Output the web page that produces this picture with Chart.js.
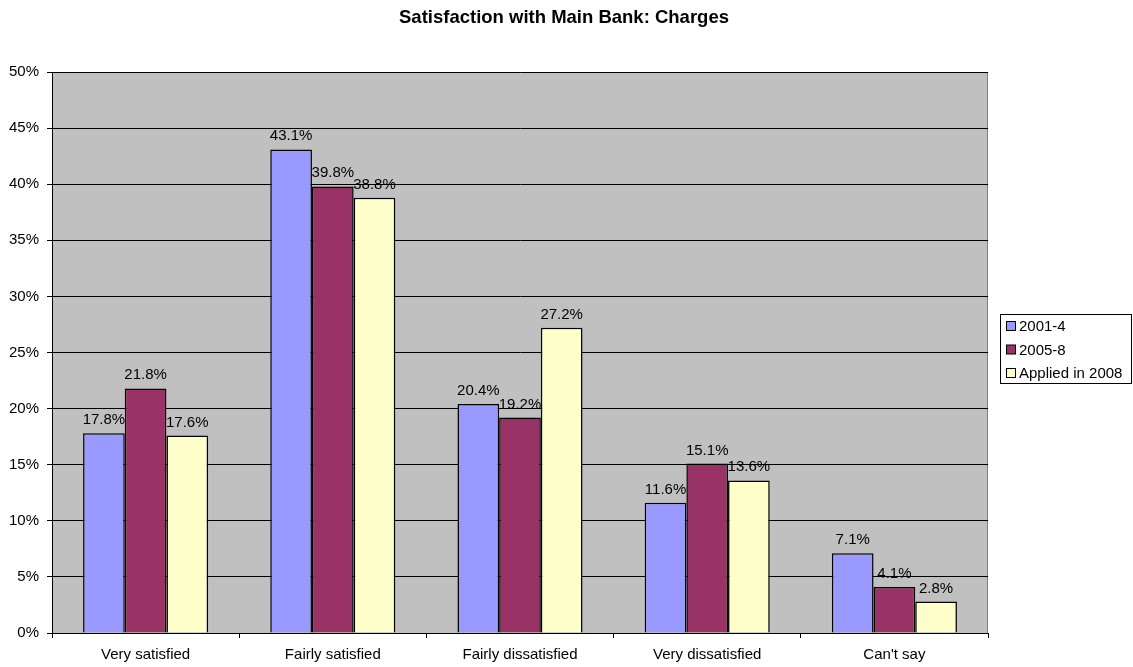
<!DOCTYPE html>
<html>
<head>
<meta charset="utf-8">
<script src="https://cdn.jsdelivr.net/npm/chart.js@4"></script>
<style>
  html, body { margin: 0; padding: 0; background: #fff; }
  #wrap { width: 1133px; height: 667px; }
</style>
</head>
<body>
<div id="wrap"><canvas id="myChart" width="1133" height="667"></canvas></div>
<script>
let categories = ['Very satisfied', 'Fairly satisfied', 'Fairly dissatisfied', 'Very dissatisfied', "Can't say"];
let seriesNames = ['2001-4', '2005-8', 'Applied in 2008'];
let values2001 = [17.8, 43.1, 20.4, 11.6, 7.1];
let values2005 = [21.8, 39.8, 19.2, 15.1, 4.1];
let values2008 = [17.6, 38.8, 27.2, 13.6, 2.8];
let colours = ['#9999FF', '#993366', '#FFFFCC'];
let chartTitle = 'Satisfaction with Main Bank: Charges';

let font = 'Arial, "Liberation Sans", sans-serif';

// grey plot background + title
let plotBackground = {
    id: 'plotBackground',
    beforeDraw(chart) {
        let { ctx, chartArea: a } = chart;
        ctx.save();
        ctx.fillStyle = '#C0C0C0';
        ctx.fillRect(a.left, a.top, a.right - a.left, a.bottom - a.top);
        ctx.strokeStyle = '#808080';
        ctx.lineWidth = 1;
        ctx.beginPath();
        ctx.moveTo(a.left, a.top + 0.5);
        ctx.lineTo(a.right - 0.5, a.top + 0.5);
        ctx.lineTo(a.right - 0.5, a.bottom);
        ctx.stroke();
        ctx.fillStyle = '#000';
        ctx.font = 'bold 18.5px ' + font;
        ctx.textAlign = 'center';
        ctx.textBaseline = 'alphabetic';
        ctx.fillText(chartTitle, 564, 23);
        ctx.restore();
    }
};

// value labels above each bar
let valueLabels = {
    id: 'valueLabels',
    afterDatasetsDraw(chart) {
        let ctx = chart.ctx;
        ctx.save();
        ctx.font = '15px ' + font;
        ctx.fillStyle = '#000';
        ctx.textAlign = 'center';
        ctx.textBaseline = 'alphabetic';
        chart.data.datasets.forEach((ds, i) => {
            chart.getDatasetMeta(i).data.forEach((bar, j) => {
                ctx.fillText(ds.data[j].toFixed(1) + '%', bar.x, bar.y - 9);
            });
        });
        ctx.restore();
    }
};

// boxed legend at the right, like the original
let boxLegend = {
    id: 'boxLegend',
    afterDraw(chart) {
        let ctx = chart.ctx;
        let x = 1000, y = 314, w = 132, h = 70;
        ctx.save();
        ctx.fillStyle = '#fff';
        ctx.fillRect(x, y, w, h);
        ctx.strokeStyle = '#000';
        ctx.lineWidth = 1;
        ctx.strokeRect(x + 0.5, y + 0.5, w - 1, h - 1);
        ctx.font = '15px ' + font;
        ctx.textBaseline = 'middle';
        chart.data.datasets.forEach((ds, i) => {
            let cy = y + 12 + i * 23.5;
            ctx.fillStyle = ds.backgroundColor;
            ctx.fillRect(x + 6.5, cy - 4.5, 9, 9);
            ctx.strokeRect(x + 6.5, cy - 4.5, 9, 9);
            ctx.fillStyle = '#000';
            ctx.fillText(ds.label, x + 19, cy + 1);
        });
        ctx.restore();
    }
};

let ctx = document.getElementById('myChart').getContext('2d');
let myChart = new Chart(ctx, {
    type: 'bar',
    data: {
        labels: categories,
        datasets: [
            { label: seriesNames[0], data: values2001, backgroundColor: colours[0] },
            { label: seriesNames[1], data: values2005, backgroundColor: colours[1] },
            { label: seriesNames[2], data: values2008, backgroundColor: colours[2] }
        ].map(d => Object.assign(d, { borderColor: '#000', borderWidth: 1.5, borderSkipped: 'bottom' }))
    },
    options: {
        responsive: false,
        animation: false,
        devicePixelRatio: 1,
        layout: { padding: { top: 72, right: 145, bottom: 0, left: 0 } },
        datasets: { bar: { categoryPercentage: 0.668, barPercentage: 1.0 } },
        plugins: {
            legend: { display: false },
            tooltip: { enabled: false },
            title: { display: false }
        },
        scales: {
            x: {
                afterFit(scale) { scale.height = 34; },
                grid: { offset: true, drawOnChartArea: false, color: '#000', tickLength: 5 },
                border: { color: '#000' },
                ticks: { color: '#000', font: { family: font, size: 15 }, padding: 8 }
            },
            y: {
                min: 0, max: 50,
                afterFit(scale) { scale.width = 52; },
                ticks: {
                    stepSize: 5,
                    color: '#000',
                    font: { family: font, size: 15 },
                    padding: 8,
                    callback: v => v + '%'
                },
                grid: { color: '#000', tickLength: 5, drawTicks: true },
                border: { color: '#000' }
            }
        }
    },
    plugins: [plotBackground, valueLabels, boxLegend]
});
</script>
</body>
</html>
